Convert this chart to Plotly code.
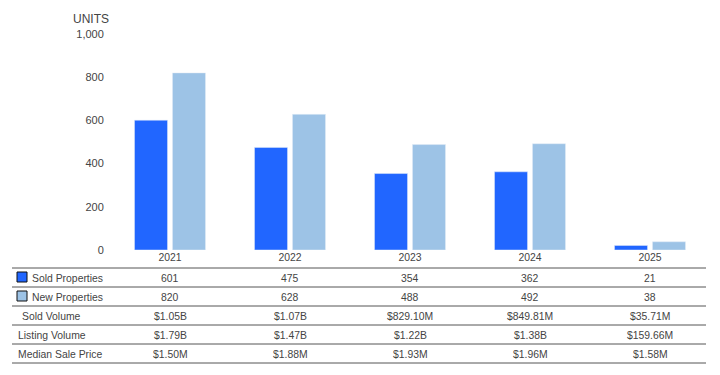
import plotly.graph_objects as go

years = ["2021", "2022", "2023", "2024", "2025"]
sold_properties = [601, 475, 354, 362, 21]
new_properties = [820, 628, 488, 492, 38]
sold_volume = ["$1.05B", "$1.07B", "$829.10M", "$849.81M", "$35.71M"]
listing_volume = ["$1.79B", "$1.47B", "$1.22B", "$1.38B", "$159.66M"]
median_sale_price = ["$1.50M", "$1.88M", "$1.93M", "$1.96M", "$1.58M"]
y_ticks = [0, 200, 400, 600, 800, 1000]

SOLD_COLOR = "#2166ff"
NEW_COLOR = "#9dc3e6"
TEXT = "#444444"
FONT = "Liberation Sans, Arial, sans-serif"
FS = 10.4

W, H = 720, 375
def py(pix):  # pixel row -> paper y
    return 1 - pix / H
def px(pix):
    return pix / W

fig = go.Figure()
fig.add_bar(x=years, y=sold_properties, name="Sold Properties", marker_color=SOLD_COLOR)
fig.add_bar(x=years, y=new_properties, name="New Properties", marker_color=NEW_COLOR)

shapes = []
annotations = []

# UNITS label
annotations.append(dict(text="UNITS", xref="paper", yref="paper", x=px(91), y=py(19),
                        xanchor="center", yanchor="middle",
                        showarrow=False, font=dict(size=12, color=TEXT, family=FONT)))

# Table rows
row_tops = [268, 287, 306, 325, 344]
row_h = 19
rows = [
    ("Sold Properties", [str(v) for v in sold_properties], SOLD_COLOR, 30),
    ("New Properties", [str(v) for v in new_properties], NEW_COLOR, 30),
    ("Sold Volume", sold_volume, None, 20),
    ("Listing Volume", listing_volume, None, 16),
    ("Median Sale Price", median_sale_price, None, 16),
]
for top in row_tops + [row_tops[-1] + row_h]:
    shapes.append(dict(type="line", xref="paper", yref="paper", x0=px(12), x1=px(706),
                       y0=py(top), y1=py(top), line=dict(color="#555555", width=1)))
for (label, vals, swatch, lx), top in zip(rows, row_tops):
    cy = top + row_h / 2 + 0.5
    if swatch:
        shapes.append(dict(type="rect", xref="paper", yref="paper", x0=px(17), x1=px(27),
                           y0=py(top + 14), y1=py(top + 4),
                           fillcolor=swatch, line=dict(color="#111111", width=1)))
    annotations.append(dict(text=label, xref="paper", yref="paper", x=px(lx), y=py(cy),
                            xanchor="left", yanchor="middle", showarrow=False,
                            font=dict(size=FS, color=TEXT, family=FONT)))
    for i, v in enumerate(vals):
        annotations.append(dict(text=v, xref="x", yref="paper", x=i, y=py(cy),
                                xanchor="center", yanchor="middle", showarrow=False,
                                font=dict(size=FS, color=TEXT, family=FONT)))

fig.update_layout(
    width=W, height=H,
    margin=dict(l=0, r=0, t=0, b=0),
    paper_bgcolor="white", plot_bgcolor="white",
    showlegend=False,
    barmode="group", bargap=0.367, bargroupgap=0.13,
    font=dict(family=FONT, size=FS, color=TEXT),
    xaxis=dict(type="category", domain=[px(110), px(710)], range=[-0.5, len(years) - 0.5],
               showgrid=False, showline=False, ticks="", automargin=False,
               tickfont=dict(size=FS, color=TEXT), fixedrange=True),
    yaxis=dict(domain=[py(250), py(34)], range=[0, 1000], tickvals=y_ticks,
               tickformat=",", showgrid=False, showline=False, zeroline=False,
               ticks="outside", ticklen=3, tickcolor="rgba(0,0,0,0)", automargin=False,
               tickfont=dict(size=11, color=TEXT), fixedrange=True),
    shapes=shapes, annotations=annotations,
)

fig.write_html("out.html", config={"displayModeBar": False},
               post_script="document.body.style.margin='0';")
